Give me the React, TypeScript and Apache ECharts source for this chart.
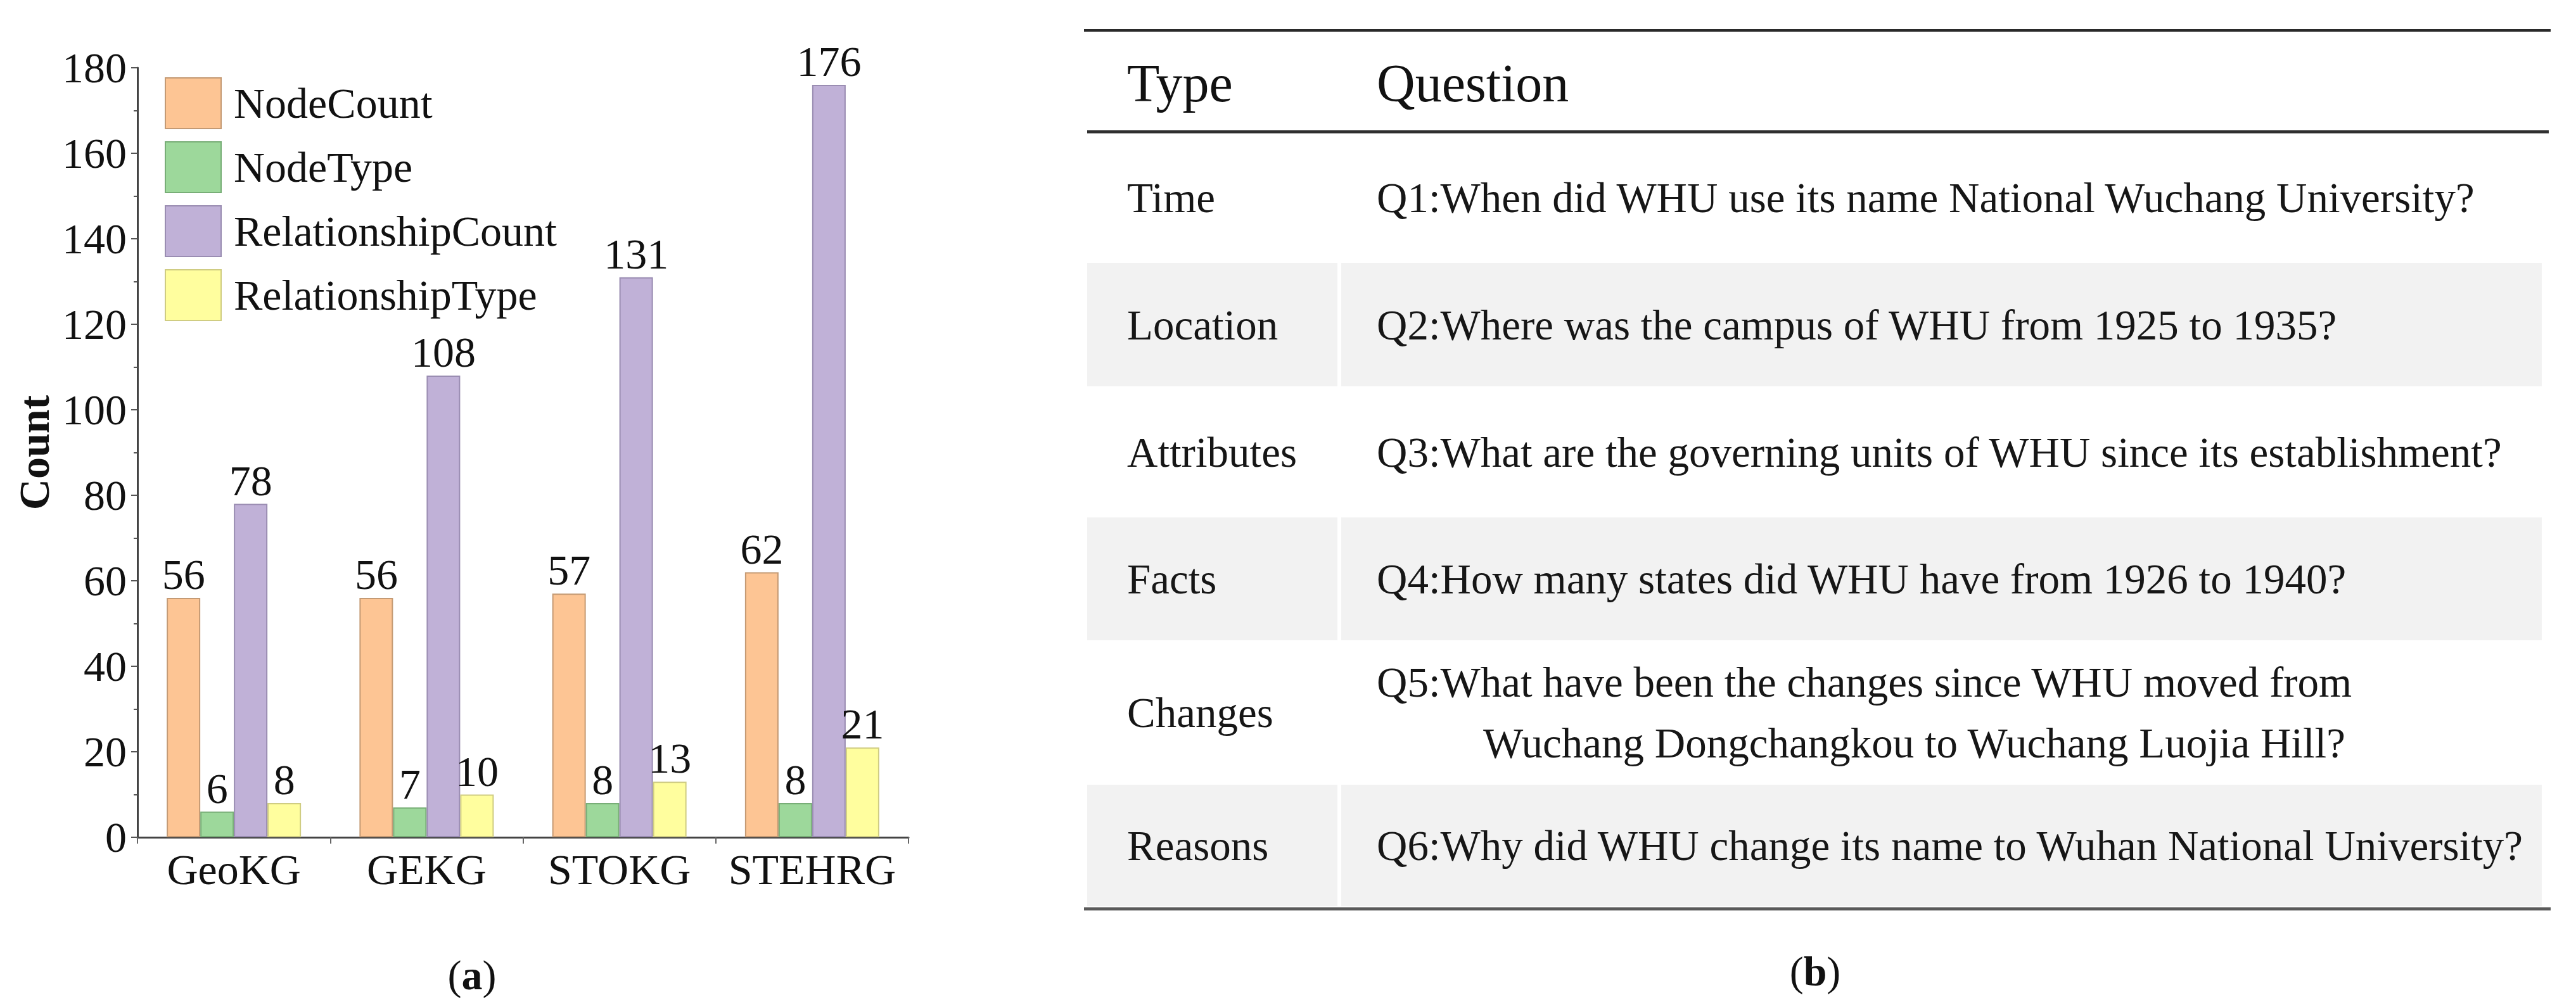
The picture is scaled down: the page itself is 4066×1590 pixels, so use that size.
import React, { useEffect, useRef } from "react";
import * as echarts from "echarts";

// ---------- data ----------
const categories = ["GeoKG", "GEKG", "STOKG", "STEHRG"];
const seriesNames = ["NodeCount", "NodeType", "RelationshipCount", "RelationshipType"];
const nodeCount = [56, 56, 57, 62];
const nodeType = [6, 7, 8, 8];
const relationshipCount = [78, 108, 131, 176];
const relationshipType = [8, 10, 13, 21];
const yMin = 0;
const yMax = 180;
const yInterval = 20;
const yAxisName = "Count";

const tableHeaders = ["Type", "Question"];
const questionTypes = ["Time", "Location", "Attributes", "Facts", "Changes", "Reasons"];
const questionLines: string[][] = [
  ["Q1:When did WHU use its name National Wuchang University?"],
  ["Q2:Where was the campus of WHU from 1925 to 1935?"],
  ["Q3:What are the governing units of WHU since its establishment?"],
  ["Q4:How many states did WHU have from 1926 to 1940?"],
  ["Q5:What have been the changes since WHU moved from", "Wuchang Dongchangkou to Wuchang Luojia Hill?"],
  ["Q6:Why did WHU change its name to Wuhan National University?"],
];
const panelLabels = ["a", "b"];

// ---------- styles ----------
const FONT = "Liberation Serif";
const fills = ["#FDC594", "#9DD89B", "#C0B1D7", "#FFFE9E"];
const borders = ["#C49A74", "#78AE77", "#9A8DB2", "#CFCC82"];
const seriesData = [nodeCount, nodeType, relationshipCount, relationshipType];

// table layout
const tLeft = 1714;
const tRight = 4026;
const colDiv = 2114;
const typeX = 1779;
const qX = 2173;
const rowBounds = [
  [210, 413],
  [415, 610],
  [612, 815],
  [817, 1011],
  [1013, 1237],
  [1239, 1431],
];

export default function App() {
  const ref = useRef<HTMLDivElement>(null);
  useEffect(() => {
    document.body.style.margin = "0";
    const chart = echarts.init(ref.current!, null, { renderer: "svg" });

    const graphics: any[] = [];
    // gray rows
    rowBounds.forEach((b, i) => {
      if (i % 2 === 1) {
        graphics.push({
          type: "rect",
          shape: { x: tLeft + 2, y: b[0], width: colDiv - 3 - (tLeft + 2), height: b[1] - b[0] },
          style: { fill: "#F2F2F2" },
          silent: true,
        });
        graphics.push({
          type: "rect",
          shape: { x: colDiv + 3, y: b[0], width: 4012 - (colDiv + 3), height: b[1] - b[0] },
          style: { fill: "#F2F2F2" },
          silent: true,
        });
      }
    });
    // rules
    graphics.push({
      type: "line",
      shape: { x1: tLeft - 3, y1: 48, x2: tRight, y2: 48 },
      style: { stroke: "#2a2a2a", lineWidth: 4 },
    });
    graphics.push({
      type: "line",
      shape: { x1: tLeft + 2, y1: 208, x2: tRight - 3, y2: 208 },
      style: { stroke: "#2f2f2f", lineWidth: 5 },
    });
    graphics.push({
      type: "line",
      shape: { x1: tLeft - 3, y1: 1435, x2: tRight, y2: 1435 },
      style: { stroke: "#5a5a5a", lineWidth: 5 },
    });
    // header
    graphics.push({
      type: "text",
      x: typeX,
      y: 131,
      style: { text: tableHeaders[0], fontFamily: FONT, fontSize: 84, fill: "#111", verticalAlign: "middle", align: "left" },
    });
    graphics.push({
      type: "text",
      x: qX,
      y: 131,
      style: { text: tableHeaders[1], fontFamily: FONT, fontSize: 84, fill: "#111", verticalAlign: "middle", align: "left" },
    });
    // rows
    questionTypes.forEach((t, i) => {
      const b = rowBounds[i];
      const cy = (b[0] + b[1]) / 2;
      graphics.push({
        type: "text",
        x: typeX,
        y: cy,
        style: { text: t, fontFamily: FONT, fontSize: 67, fill: "#161616", verticalAlign: "middle", align: "left" },
      });
      const lines = questionLines[i];
      if (lines.length === 1) {
        graphics.push({
          type: "text",
          x: qX,
          y: cy,
          style: { text: lines[0], fontFamily: FONT, fontSize: 67, fill: "#161616", verticalAlign: "middle", align: "left" },
        });
      } else {
        graphics.push({
          type: "text",
          x: qX,
          y: cy - 48,
          style: { text: lines[0], fontFamily: FONT, fontSize: 67, fill: "#161616", verticalAlign: "middle", align: "left" },
        });
        graphics.push({
          type: "text",
          x: 2341,
          y: cy + 48,
          style: { text: lines[1], fontFamily: FONT, fontSize: 67, fill: "#161616", verticalAlign: "middle", align: "left" },
        });
      }
    });
    // panel labels
    const panelPos = [
      [745, 1539],
      [2865, 1533],
    ];
    panelLabels.forEach((p, i) => {
      graphics.push({
        type: "text",
        x: panelPos[i][0],
        y: panelPos[i][1],
        style: {
          text: "(" + "{b|" + p + "}" + ")",
          rich: { b: { fontWeight: "bold", fontFamily: FONT, fontSize: 66, fill: "#111" } },
          fontFamily: FONT,
          fontSize: 66,
          fill: "#111",
          align: "center",
          verticalAlign: "middle",
        },
      });
    });

    const option: any = {
      animation: false,
      backgroundColor: "#ffffff",
      textStyle: { fontFamily: FONT },
      grid: { left: 217, right: 4066 - 1434, top: 107, bottom: 1590 - 1322, containLabel: false },
      legend: {
        orient: "vertical",
        left: 255,
        top: 117,
        itemWidth: 88,
        itemHeight: 80,
        itemGap: 19,
        icon: "rect",
        data: seriesNames,
        textStyle: { fontFamily: FONT, fontSize: 68, color: "#111", padding: [0, 0, 0, 15] },
      },
      xAxis: {
        type: "category",
        data: categories,
        axisLine: { show: true, lineStyle: { color: "#444", width: 3 } },
        axisTick: { show: true, length: 10, lineStyle: { color: "#666", width: 2 } },
        axisLabel: { fontFamily: FONT, fontSize: 68, color: "#111", margin: 17, interval: 0 },
        splitLine: { show: false },
      },
      yAxis: {
        type: "value",
        min: yMin,
        max: yMax,
        interval: yInterval,
        name: yAxisName,
        nameLocation: "middle",
        nameGap: 129,
        nameTextStyle: { fontFamily: FONT, fontSize: 68, fontWeight: "bold", color: "#111" },
        axisLine: { show: true, lineStyle: { color: "#444", width: 3 } },
        axisTick: { show: true, length: 10, lineStyle: { color: "#555", width: 2 } },
        minorTick: { show: true, splitNumber: 2, length: 6, lineStyle: { color: "#555", width: 2 } },
        axisLabel: { fontFamily: FONT, fontSize: 68, color: "#111", margin: 17 },
        splitLine: { show: false },
      },
      series: seriesNames.map((name, i) => ({
        name,
        type: "bar",
        data: seriesData[i],
        barWidth: 53,
        barGap: "0%",
        itemStyle: { color: fills[i], borderColor: borders[i], borderWidth: 2 },
        label: {
          show: true,
          position: "top",
          distance: 3,
          fontFamily: FONT,
          fontSize: 68,
          color: "#111",
        },
      })),
      graphic: graphics,
    };
    chart.setOption(option);
    return () => chart.dispose();
  }, []);
  return <div ref={ref} style={{ width: 4066, height: 1590 }} />;
}
